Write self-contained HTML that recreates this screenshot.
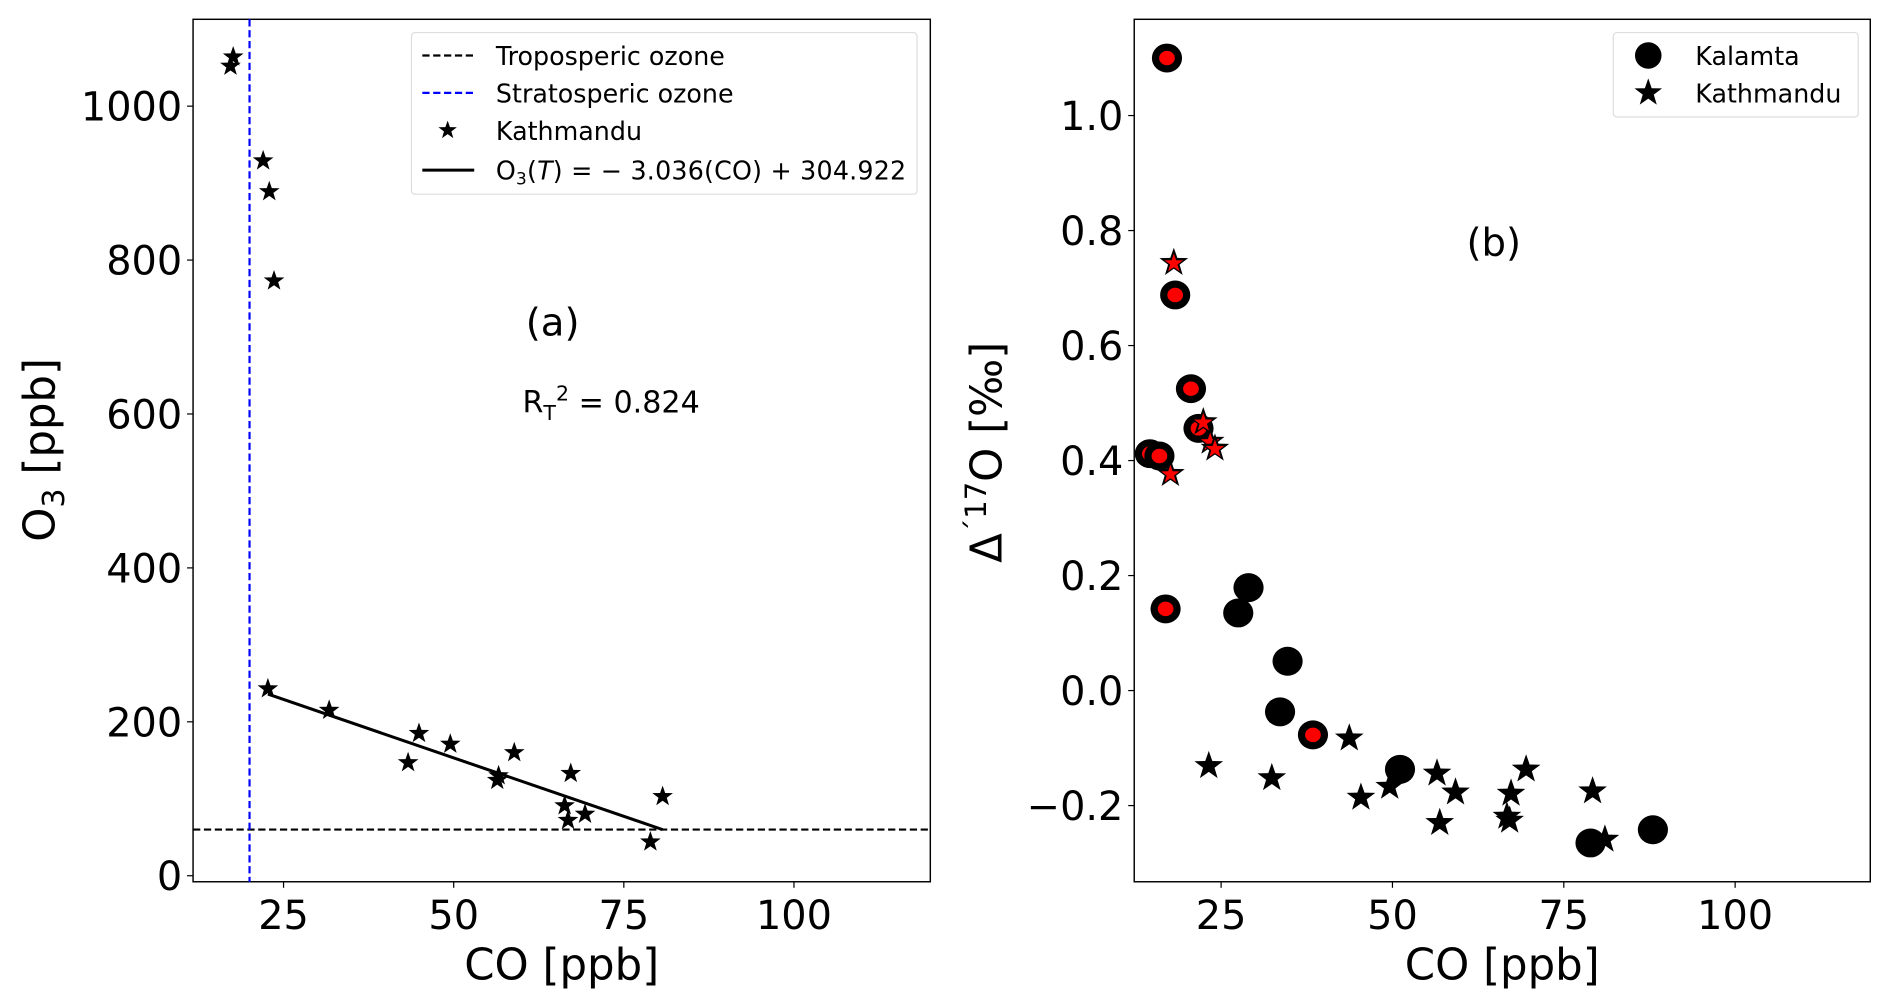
<!DOCTYPE html>
<html><head><meta charset="utf-8"><style>
html,body{margin:0;padding:0;background:#fff;}
svg{display:block;font-family:"DejaVu Sans","Liberation Sans",sans-serif;}
</style></head><body>
<svg id="fig" width="1892" height="1006" viewBox="0 0 1568 834" preserveAspectRatio="none" xmlns="http://www.w3.org/2000/svg">
<g id="pa"></g>
<g id="pb"></g>
</svg>
<script>
// Panel (a) data
const aCO = [17.2,17.6,22.0,22.9,23.6,22.7,31.7,43.3,44.9,49.5,58.9,56.4,56.6,67.2,66.3,66.8,69.3,78.9,80.7];
const aO3 = [1052,1064,929,889,773,243,215,147,185,171,160,124,130,133,91,72,80,44,103];
const aXTicks = [25,50,75,100];
const aYTicks = [0,200,400,600,800,1000];
const fitSlope = -3.036, fitIntercept = 304.922, fitRange = [22.7,80.7];
const tropoO3 = 60, stratoCO = 20;
// Panel (b) data
const kalCO = [17.1,18.3,20.6,21.7,14.6,16.0,16.9,29.0,27.5,34.7,33.6,38.4,51.1,78.9,88.0];
const kalD = [1.10,0.688,0.525,0.456,0.412,0.408,0.142,0.179,0.135,0.051,-0.037,-0.077,-0.137,-0.265,-0.242];
const kalRed = [1,1,1,1,1,1,1,0,0,0,0,1,0,0,0];
const katCO = [18.1,17.6,22.4,23.4,24.1,23.2,32.4,43.7,45.4,49.6,56.5,56.9,59.2,67.3,66.7,67.1,69.5,79.2,81.0];
const katD = [0.744,0.377,0.467,0.433,0.421,-0.131,-0.152,-0.083,-0.186,-0.167,-0.144,-0.230,-0.177,-0.179,-0.219,-0.226,-0.137,-0.175,-0.259];
const katRed = [1,1,1,1,1,0,0,0,0,0,0,0,0,0,0,0,0,0,0];
const bXTicks = [25,50,75,100];
const bYTicks = [-0.2,0.0,0.2,0.4,0.6,0.8,1.0];

const NS="http://www.w3.org/2000/svg";
function mk(p,tag,at,txt){const e=document.createElementNS(NS,tag);for(const k in at)e.setAttribute(k,at[k]);if(txt!==undefined)e.textContent=txt;p.appendChild(e);return e;}
function star(cx,cy,r){let s="";for(let i=0;i<10;i++){const rr=i%2?r*0.4:r;const a=-Math.PI/2+i*Math.PI/5;s+=(cx+rr*Math.cos(a)).toFixed(2)+","+(cy+rr*Math.sin(a)).toFixed(2)+" ";}return s;}
function lin(d0,d1,r0,r1){return v=>r0+(v-d0)*(r1-r0)/(d1-d0);}

// ---- Panel A ----
const A=document.getElementById('pa');
const aL=160,aR=771,aT=16,aB=731;
const ax=lin(0,100,94,658), ay=lin(0,1000,726,88);
let e;
e=mk(A,'rect',{x:aL,y:aT,width:aR-aL,height:aB-aT,fill:'none',stroke:'#000','stroke-width':1.2});

aXTicks.forEach(t=>{const x=ax(t);mk(A,'line',{x1:x,x2:x,y1:aB,y2:aB+5,stroke:'#000'});
 e=mk(A,'text',{x:x,y:aB+39,'font-size':33,'text-anchor':'middle'},String(t));
 });
aYTicks.forEach(t=>{const y=ay(t);mk(A,'line',{x1:aL-5,x2:aL,y1:y,y2:y,stroke:'#000'});
 e=mk(A,'text',{x:aL-9,y:y+12,'font-size':33,'text-anchor':'end'},String(t));
 });
e=mk(A,'text',{x:(aL+aR)/2,y:812,'font-size':36,'text-anchor':'middle'},'CO [ppb]');

e=mk(A,'text',{x:0,y:0,'font-size':36,'text-anchor':'middle',transform:'translate(45,373) rotate(-90)'});
e.innerHTML='O<tspan font-size="25" dy="8">3</tspan><tspan dy="-8"> [ppb]</tspan>';

e=mk(A,'line',{x1:aL,x2:aR,y1:ay(tropoO3),y2:ay(tropoO3),stroke:'#000','stroke-width':1.8,'stroke-dasharray':'6,3'});

e=mk(A,'line',{x1:ax(stratoCO),x2:ax(stratoCO),y1:aT,y2:aB,stroke:'#0000ff','stroke-width':1.8,'stroke-dasharray':'6,3'});

e=mk(A,'line',{x1:ax(fitRange[0]),x2:ax(fitRange[1]),y1:ay(fitSlope*fitRange[0]+fitIntercept),y2:ay(fitSlope*fitRange[1]+fitIntercept),stroke:'#000','stroke-width':2.5});

aCO.forEach((c,i)=>{e=mk(A,'polygon',{points:star(ax(c),ay(aO3[i]),9),fill:'#000'});
 });
e=mk(A,'text',{x:458,y:278,'font-size':32,'text-anchor':'middle'},'(a)');

e=mk(A,'text',{x:433,y:342,'font-size':25});
e.innerHTML='R<tspan font-size="17" dy="6">T</tspan><tspan font-size="17" dy="-16">2</tspan><tspan dy="10"> = 0.824</tspan>';

// legend A
const LA=mk(A,'g',{});
mk(LA,'rect',{x:341,y:27,width:419,height:134,rx:3,fill:'#fff',stroke:'#ddd','stroke-width':1});
mk(LA,'line',{x1:350,x2:393,y1:46,y2:46,stroke:'#000','stroke-width':1.8,'stroke-dasharray':'6,3'});
mk(LA,'line',{x1:350,x2:393,y1:77,y2:77,stroke:'#0000ff','stroke-width':1.8,'stroke-dasharray':'6,3'});
mk(LA,'polygon',{points:star(371,108,8),fill:'#000'});
mk(LA,'line',{x1:350,x2:393,y1:141,y2:141,stroke:'#000','stroke-width':2.5});
e=mk(LA,'text',{x:411,y:54,'font-size':21},'Troposperic ozone');
e=mk(LA,'text',{x:411,y:85,'font-size':21},'Stratosperic ozone');
e=mk(LA,'text',{x:411,y:116,'font-size':21},'Kathmandu');
e=mk(LA,'text',{x:411,y:149,'font-size':21,textLength:340,lengthAdjust:'spacing'});e.innerHTML='O<tspan font-size="14" dy="4">3</tspan><tspan dy="-4">(<tspan font-style="italic">T</tspan>) = − 3.036(CO) + 304.922</tspan>';


// ---- Panel B ----
const B=document.getElementById('pb');
const bL=940,bR=1550,bT=16,bB=731;
const bx=lin(0,100,870,1438), by=lin(0,1,572.5,95.8);
e=mk(B,'rect',{x:bL,y:bT,width:bR-bL,height:bB-bT,fill:'none',stroke:'#000','stroke-width':1.2});

bXTicks.forEach(t=>{const x=bx(t);mk(B,'line',{x1:x,x2:x,y1:bB,y2:bB+5,stroke:'#000'});
 e=mk(B,'text',{x:x,y:bB+39,'font-size':33,'text-anchor':'middle'},String(t));
 });
bYTicks.forEach(t=>{const y=by(t);mk(B,'line',{x1:bL-5,x2:bL,y1:y,y2:y,stroke:'#000'});
 e=mk(B,'text',{x:bL-9,y:y+12,'font-size':33,'text-anchor':'end'},(t<0?'−':'')+Math.abs(t).toFixed(1));
 });
e=mk(B,'text',{x:(bL+bR)/2,y:812,'font-size':36,'text-anchor':'middle'},'CO [ppb]');

e=mk(B,'text',{x:0,y:0,'font-size':36,'text-anchor':'middle',transform:'translate(830,375) rotate(-90)'});
e.innerHTML='Δ<tspan font-size="24" dy="-13">´17</tspan><tspan dy="13">O [‰]</tspan>';

e=mk(B,'text',{x:1238,y:212,'font-size':32,'text-anchor':'middle'},'(b)');

kalCO.forEach((c,i)=>{const x=bx(c),y=by(kalD[i]);
 e=mk(B,'ellipse',{cx:x,cy:y,rx:12.5,ry:12,fill:'#000'});
 
 if(kalRed[i]){mk(B,'ellipse',{cx:x,cy:y,rx:6.5,ry:6,fill:'#ff0000'});}});
katCO.forEach((c,i)=>{const x=bx(c),y=by(katD[i]);
 e=mk(B,'polygon',{points:star(x,y,12.5),fill:'#000'});
 
 if(katRed[i]){mk(B,'polygon',{points:star(x,y+0.5,8),fill:'#ff0000'});}});
const LB=mk(B,'g',{});
mk(LB,'rect',{x:1337,y:27,width:203,height:70,rx:3,fill:'#fff',stroke:'#ddd','stroke-width':1});
mk(LB,'ellipse',{cx:1366,cy:46,rx:11,ry:11,fill:'#000'});
mk(LB,'polygon',{points:star(1366,77,12),fill:'#000'});
e=mk(LB,'text',{x:1405,y:54,'font-size':21},'Kalamta');
e=mk(LB,'text',{x:1405,y:85,'font-size':21},'Kathmandu');
</script>
</body></html>
